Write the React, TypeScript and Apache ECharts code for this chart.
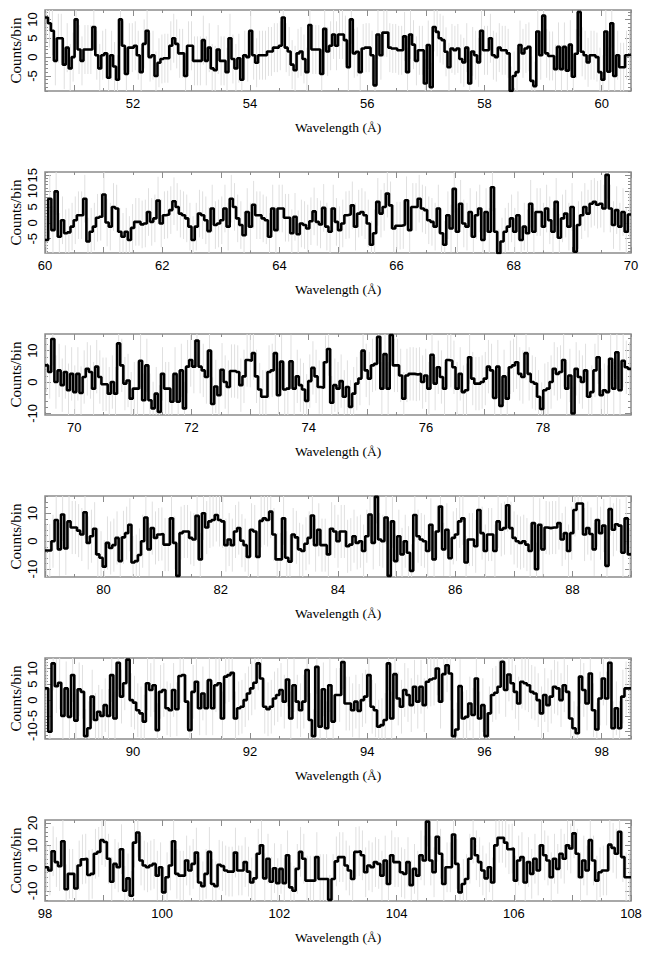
import React, { useEffect, useRef } from "react";
import * as echarts from "echarts";

// ---------- data ----------
const panelStarts = [50.5, 60, 69.5, 79, 88.5, 98];
const panelSpan = 10;

const xLabelValues = [
  [52, 54, 56, 58, 60],
  [60, 62, 64, 66, 68, 70],
  [70, 72, 74, 76, 78],
  [80, 82, 84, 86, 88],
  [90, 92, 94, 96, 98],
  [98, 100, 102, 104, 106, 108],
];
const yLabelValues = [
  [-5, 0, 5, 10],
  [-5, 0, 5, 10, 15],
  [-10, 0, 10],
  [-10, 0, 10],
  [-10, -5, 0, 5, 10],
  [-10, 0, 10, 20],
];
const yRanges = [
  [-9, 12.5],
  [-9.5, 16],
  [-10.5, 15.3],
  [-12.8, 16.2],
  [-12.3, 13.3],
  [-14.5, 21.3],
];
const errorSizes = [6.5, 7.5, 8.5, 9.5, 8.5, 11];

const panel1Counts = [
  10.5, 9, 7, -1, 5, 5, -2, 2.5, -3, 0, 10, 2, -1, 2, 2, 2, 8, 0.5, -3, 0.5, 1, -5.5, 0.5, -2.5, -6, 10, 3, -4.5, 2.5, 2.5,
  3, 0.5, -4, 3.5, 7, 0, 0.5, -5, -1.5, -0.5, -0.3, -0.3, 3, 5, 3.5, 1, 1, -5, 3, 3, -1, -1, -1, 4.5, -1, 2.5, -3, -3.5, 2,
  -1, -1, -4, 5, -0.5, -3, -0.3, -6, 0.5, 0, 7, 0.5, -1.5, 0.5, 0.5, 0.5, 1.5, 1.5, 2.5, 2.5, 3, 10.5, 2.5, 1.5, -2, -3.5,
  1, 1.5, -0.5, -4, 8.5, 2, 2, 2, -4.5, 7.5, 1.5, 3, 6, 3, 6, 6, 4.5,
  -2.7, 10, 1, 1.4, -4, 2.3, 2.5, 2.5, 0.5, -7.5, 6, 0.5, 6.5, 6.5, 2.5, 2.3, 2.3, 1.8, 1.8, 5.5, -4, 6, 3.3, -1, 1.8, 1.8,
  -7, 3.2, -8, 8, 6.7, 5, 4.5, 1.4, -2.7, 2.3, 1.8, 2.3, -0.5, -1.4, 2.5, -7, 1.5, 0.5, -1.4, 7, 1.8, 1.8, 5, 0.5, 0, 2.5,
  1.8, 1.8, 1, -9, -5, -4, 3.2, 1, 2.3, 2.7, -6.3, -7.7, 6.8, 0.5, 11, 1, 0.3, 0.3, -3.2, 2.7, -3.2, 2.7, -3.6, 3.3, -5.2,
  0.9, 12, 1.4, 0.5, -1.4, 0.5, 0.5, 0, -4, -6, 6.8, -3.9, 9, -5, 0.5, -2.7, -2.7, 0.5, 0.6,
];
const panel2Counts = [
  -5.4, 7.6, -2.3, 9.9, -4.4, 0.8, -3.3, -3, -1.2, 0.8, 2.4, 2.4, 7.6, -5.9, -2.8, -1.2, 1.6, 1.9, 8.9, 0.1, -1.2, 5, 4.5,
  -2.8, -4.4, -2.8, -5.4, -1.6, 0.3, 0.3, -0.5, -0.2, 3.4, 0.3, 1.4, 7, -0.2, 2.4, 2.6, 4, 6.8, 5, 2.9, 2.4, 1.4, -1.2,
  -5.4, -1.2, 2.9, 2.4, 0.8, -2.6, 4.5, -0.7, -0.2, 0.8, 4.5, -1.2, 7.6, 5, 1.4, -0.7, -3.9, 3.4, -1.2, 5.7, 2.4, 2.4, 1.4,
  0.8, -4.4, 4.5, -2.3, 4.5, 4.5, 1.6, 1.6, -3.3, 1.9, -3.6, -0.2, -0.7, -1.8, 0.5, 3.6, 0.3, -0.5, 4.7, -1.2, -2.8, 4.5,
  0.3, -2.3, -0.2, 2.4, 2.6, 5.5, -1.2, 2.9, 3.4, 2.4, -0.2, -6.9, -3.3, 6.6, 2.9, 5, 9.2, 5.5, -1.8, -0.9, -0.9, -0.7, 7.1,
  -2.3, 5, 5, 7.6, 4.5, 4, 0.8, 0.3, -1.2, 4.5, -3.3, -6.9, 2.4, -1.8, 10.7, -2.8, 6, -0.2, -1.2, 3.4, -4.4, 2.4, 4.5, -5.4,
  3.4, -2.8, 11.2, -2.8, -9.6, -5.9, -2.8, -1.2, 1.4, -2.8, 2.4, -5.4, -1.2, -3.3, 6, -2.8, 3.4, 3.4, -1.2, 4.5, 0.8, -2.8,
  6.6, -4.7, 1.4, 2.9, -1.2, 5, -9.1, -0.7, 2.4, 5, 2.9, 6, 6.6, 5.7, 6, 4.5, 15.1, 4.5, -0.7, 4, -1.2, 3.4, -2.8, 2.6,
];
const panel3Counts = [
  5.3, 3.2, 13.7, 0, 3.7, -1, 3.2, -2.6, 2.6, -3.2, 2.6, -3.5, 1.6, 4.2, 3.2, -2.1, 4.9, 1.6, -0.7, -0.7, -3.7, 0, -3.7,
  12.3, 5.3, -0.5, 0.5, -5.3, -2.1, -2.1, 6.8, -5.8, 5.3, -5.8, -8.4, -3.7, -9.5, 2.6, -2.1, -2.1, -6.3, 2.6, -6.3, 3.7,
  -8.4, 4.9, 7, 4.9, 13.2, 4.9, 3.7, 1.6, 10, -7, -1.4, -4.2, 3.9, 0, -1.6, 3.5, 3.5, 3.2, -1, 1.8, 7, 6.8, 9.2, 1.8, -2.4,
  -4.7, -4.7, 3.2, 3.7, 9.2, -4.2, 6.5, -2.4, -2.1, 6.6, -2.1, 1.8, -1, -2.4, -6, 0.3, 4.5, 1.8, -1.6, -1.8, 6.3, 10.5,
  -6.6, -1, -2.1, 0.3, -4.7,
  -1.6, -7.9, -3.7, -0.5, 1.1, 10, 3.7, 1.1, 5.3, 5.8, 14.4, -2.1, 8.9, -2.1, 15, 5.3, 5.3, 2.1, -5.3, 2.1, 2.6, 2.6, 2.4,
  2.6, 0, 2.1, -2.1, 8.7, -0.5, 4.7, 1.6, -2.1, 7, 6.8, 4.7, -2.1, 2.6, -3.2, -2.6, 7.9, 1.1, -0.5, -0.5, 0, 1.1, 4.9, 3.7,
  -5.1, 4.9, -7.6, 1.8, -5.3, 4.7, 5.3, 6.3, 2.6, 1.6, 9.2, 2.6, 0, -0.5, -4.7, -8.6, -2.6, -2.1, 0, 4.2, 2.6, 3.2, 7, -2.1,
  2.1, -10, 4.2, 1.6, 0, 3.7, -4.7, -3.2, 3.7, 7.9, -4.2, -2.6, -3.2, 7.4, -2.1, 9.5, -2.6, 6.8, 4.7, 4.2,
];
const panel4Counts = [
  -3.3, -3.3, 0, 7.6, -2.9, 9.6, -2.6, 7.1, 4.9, 4.9, 3.8, 2.4, 10.4, -0.6, 1.8, 4.5, -4.7, -5.9, -9.1, -0.6, -2.4, -1.4,
  1.2, -7.1, 1.4, 2.9, 5.9, -7.6, -7.1, -4.9, 0, 8.5, -2.9, 4.7, 1.2, 2.4, 2.6, -1.2, -1.2, 8.2, -0.6, -12.4, 2.9, 3.5, 3.5,
  1.2, 0.6, 9.1, -6.5, 10, 4.9, 7.1, 7.6, 9.4, 7.6, 7.1, -1.4, 0.6, -1.4, 3.5, 4.7, 0.2, -1.4, -5.6, 4.1, 3.5, -5.6, 7.3,
  8.2, 7.6, 10.6, 2.4, -6.5, -6.5, 8.2, -5.9, -7.3, 2.4, 1.4, -2.9, -3.5, -0.9, 1.2, 9.2, -1.4, 4.1, -1.4, -1.4, -4.7, 4.5,
  3.5, 0, 3.5, 3.5,
  -1.8, -1.2, 1.8, -0.6, 0, -3.5, 1.8, 9.6, -0.6, 15.9, 0.6, 0, 8.5, -12.4, 7.1, -7.1, 1.8, -4.7, 0, -4.1, -10.6, 9.4, 1.8,
  0.6, 0, -3.5, 5.9, -6.5, 3.5, 12.4, -2.9, 4.1, -6.1, 1.2, 2.4, 7.1, 8.2, -7.6, 0.6, 0.6, -1.8, 11.2, 2.9, -3.5, 2.4, 2.4,
  -3.5, 7.1, 4.1, 4.7, 12.9, 4.7, 1.2, 0, -0.6, 0, -1.2, -3.5, 6.5, -10, 5.9, -2.9, 4.9, 4.7, 4.9, 4.9, 6.5, 0.6, 2.9, -3.5,
  2.9, 11.2, 13.5, 13.5, 2.4, 4.7, 2.6, -2.9, 7.6, 2.9, 5.6, -8.8, 11.5, 4.1, 6.1, 5.6, -4.1, 8.2, -4.7,
];
const panel5Counts = [
  3.7, -10, 11.6, 4.4, 5.5, -5, 3.7, -5.3, 7.9, -6.5, 3.4, 2.6, -11.4, -8.9, 1.1, -6.3, -3.7, -5, -1.6, -5, 7.9, -5.8, 11.8,
  1.1, 5.3, 12.8, 0, -0.8, -3.2, -4.2, -6.8, 5.3, 3.2, 4.7, -9.5, 2.6, 3.2, -2.6, -3.2, 3.2, -2.9, 7.6, 7.9, -0.5, -9.5,
  2.6, 5.8, -2.6, 2.1, -2.6, 6.3, -2.6, 4.7, 5.3, -5.8, 7.4, 7.9, 8.6, -5.8, -2.6, -2.1, 0, 2.1, 3.7, 5.5, 11.6, 6.8, -2.1,
  -2.9, -2.1, 0.5, 1.6, 3.2, -0.5, 6.5, -5.8, 4.7, -0.5, -3.2, -0.5, 9.5, -6.3, -11.4, 10.5, -8.4, 3.4, -8.9, 4.7, -6.8,
  1.6, 1.6, 12,
  -1.1, -1.1, -3.2, -0.5, -3.4, 0, 1.1, 7.9, -2.1, -3.2, -8.4, -7.9, -6.3, 11.6, -5.8, 8.2, 0.5, -2.1, 3.2, 1.6, -1.6, 4.2,
  -0.5, 4.2, -1.6, 5.8, 6.5, 6.8, 10, -0.5, 8.2, 11, 8.4, -11.4, -9.3, 4.4, -5.8, -5.3, -1.1, -4.7, 6.8, -5.8, -1.6, -11.4,
  -4.2, 1.6, 2.3, 4.2, 12.1, 3.2, 8.1, 5.3, 2.6, -1.1, 5.8, 5.3, 4.7, 2.6, 2.1, 0, -4.2, 1.6, -1.6, 1.1, 4.2, 3.7, 0, 4.7,
  2.6, -5.8, -8.9, -10.5, 7.4, 3.2, -1.1, 8.4, -3.2, -9.3, 0.5, 6.8, 0.5, 11.8, -8.9, -2.6, -8.9, 1.1, 3.7, 3.7,
];
const panel6Counts = [
  0.4, -1, 7.5, 2.7, 0.9, 11.9, -9.3, -2.5, -2.5, -9, 1.2, 3.9, 4.2, -3, -2.5, 6.4, 7.2, 12.4, 11.6, 4.2, -6, 1.9, 0.4, 8.4,
  -10, -4.5, -12.2, 11.3, 15.8, 3.4, 1.2, 0.4, 1.2, 1.9, -3.3, 0.4, -10.7, -4, 1.2, 11.9, -2.5, -3.3, -3.3, 3.4, -1, 1.9,
  6.9, -6.3, -8, -2.5, 7.2, -7, -8, 1.5, 0.9, -1, -1.5, -1.5, 6.9, -1, -1, 2.7, -1.5, -6.3, -4.5, 6.4, 10.1, -4.5, 4.2, -6,
  0, -6.6, -0.3, -6.6, 5.7, -8.5, -10, -0.3, 7.2, 4.2, -5.5, -5.5, -5.5, 4.9, -4.8, -4.8, -4.8, -14, -4.8, 3, 4.9, 4.9,
  1.2, -1, -4.8, 7.2, 7.5, 5.7, -1.8, 1.2, 0.4, 2.7, 1.9, -3.3, 3.4, -7, 5.7, 2.7, 2.7, -1.8, -2.5, 2.7, -7.5, -0.3, -3.3,
  5.7, 3.4, 20.6, 3.4, -1.8, 13.9, 6.4, -7, 0.4, 0.4, 14.9, 1.9, -10.7, -7, -4.8, 4.2, 13.1, 5.7, 2.7, -1, -4.5, 0.4, -6.3,
  10.1, 13.4, 13.4, 11.3, 8.4, 8.7, -5.5, 3.4, 4.9, -6.3, 2.7, -2.5, 4.2, -1, 10.1, 5.7, 3.4, -4, 4.2, -0.3, 6.4, 4.2, 10.1,
  8.7, 15.4, 6.4, -4, 3.4, -1, 12.4, 3.4, -5.5, -1.8, -1, -1, 10.4, 9, 6.4, 16.1, 4.9, -4, -4,
];
const panelCounts = [panel1Counts, panel2Counts, panel3Counts, panel4Counts, panel5Counts, panel6Counts];

// ---------- layout ----------
const GRID_LEFT = 45;
const GRID_WIDTH = 586;
const GRID_HEIGHT = 81;
const GRID_TOP0 = 10;
const GRID_STRIDE = 162;
const FRAME = "#8c8c8c";
const SANS = "Liberation Sans, Arial, sans-serif";
const SERIF = "Liberation Serif, Times New Roman, serif";

function stepValues(a: number, b: number, step: number): number[] {
  const out: number[] = [];
  let v = Math.ceil(a / step - 1e-9) * step;
  while (v <= b + 1e-9) {
    out.push(Math.round(v * 1000) / 1000);
    v += step;
  }
  return out;
}

const yMinorSteps = [1, 1, 2, 2, 1, 2];
const yMajorSteps = [5, 5, 10, 10, 5, 10];

function buildOption() {
  const grids: any[] = [];
  const xAxes: any[] = [];
  const yAxes: any[] = [];
  const series: any[] = [];
  const graphics: any[] = [];

  panelCounts.forEach((counts, i) => {
    const top = GRID_TOP0 + GRID_STRIDE * i;
    const xmin = panelStarts[i];
    const xmax = xmin + panelSpan;
    const [ymin, ymax] = yRanges[i];
    grids.push({
      left: GRID_LEFT,
      top,
      width: GRID_WIDTH,
      height: GRID_HEIGHT,
      show: true,
      borderColor: FRAME,
      borderWidth: 1.5,
      backgroundColor: "transparent",
    });

    const xMajor = stepValues(xmin, xmax, 1);
    const xMinor = stepValues(xmin, xmax, 0.5);
    const yMajor = stepValues(ymin, ymax, yMajorSteps[i]);
    const yMinor = stepValues(ymin, ymax, yMinorSteps[i]);

    const baseX = (pos: string, ticks: number[], len: number, labels: number[] | null) => ({
      type: "value",
      gridIndex: i,
      position: pos,
      min: xmin,
      max: xmax,
      axisLine: { show: false, onZero: false },
      splitLine: { show: false },
      axisTick: { show: true, inside: true, length: len, customValues: ticks, lineStyle: { color: FRAME, width: 1 } },
      axisLabel: labels
        ? {
            show: true,
            customValues: labels,
            formatter: (v: number) => String(v),
            color: "#000",
            fontFamily: SANS,
            fontSize: 13,
            margin: 6,
          }
        : { show: false },
    });
    const baseY = (pos: string, ticks: number[], len: number, labels: number[] | null) => ({
      type: "value",
      gridIndex: i,
      position: pos,
      min: ymin,
      max: ymax,
      axisLine: { show: false, onZero: false },
      splitLine: { show: false },
      axisTick: { show: true, inside: true, length: len, customValues: ticks, lineStyle: { color: FRAME, width: 1 } },
      axisLabel: labels
        ? {
            show: true,
            customValues: labels,
            formatter: (v: number) => String(v),
            color: "#000",
            fontFamily: SANS,
            fontSize: 13,
            rotate: 90,
            margin: 6,
          }
        : { show: false },
    });

    const xMainIndex = xAxes.length;
    xAxes.push(baseX("bottom", xMajor, 6, xLabelValues[i]));
    xAxes.push(baseX("bottom", xMinor, 3, null));
    xAxes.push(baseX("top", xMajor, 6, null));
    xAxes.push(baseX("top", xMinor, 3, null));
    const yMainIndex = yAxes.length;
    yAxes.push(baseY("left", yMajor, 6, yLabelValues[i]));
    yAxes.push(baseY("left", yMinor, 3, null));
    yAxes.push(baseY("right", yMajor, 6, null));
    yAxes.push(baseY("right", yMinor, 3, null));

    const n = counts.length;
    const w = panelSpan / n;
    const err = errorSizes[i];
    const errData = counts.map((v, j) => [xmin + (j + 0.5) * w, v - err, v + err]);
    const stepData = counts.map((v, j) => [xmin + j * w, v]);
    stepData.push([xmin + n * w, counts[n - 1]]);

    series.push({
      type: "custom",
      xAxisIndex: xMainIndex,
      yAxisIndex: yMainIndex,
      silent: true,
      clip: true,
      encode: { x: 0, y: [1, 2] },
      data: errData,
      renderItem: (params: any, api: any) => {
        const x = api.value(0);
        const lo = Math.max(api.value(1), ymin);
        const hi = Math.min(api.value(2), ymax);
        const a = api.coord([x, lo]);
        const b = api.coord([x, hi]);
        return {
          type: "line",
          shape: { x1: a[0], y1: a[1], x2: b[0], y2: b[1] },
          style: { stroke: "#e0e0e0", lineWidth: 1 },
        };
      },
    });
    series.push({
      type: "line",
      xAxisIndex: xMainIndex,
      yAxisIndex: yMainIndex,
      step: "end",
      symbol: "none",
      silent: true,
      clip: true,
      data: stepData,
      lineStyle: { color: "#000", width: 2.6 },
    });

    graphics.push({
      type: "text",
      x: GRID_LEFT + GRID_WIDTH / 2,
      y: top + GRID_HEIGHT + 36,
      style: {
        text: "Wavelength (Å)",
        font: `13.5px ${SERIF}`,
        fill: "#000",
        align: "center",
        verticalAlign: "middle",
        textAlign: "center",
        textVerticalAlign: "middle",
      },
    });
    graphics.push({
      type: "text",
      x: 16,
      y: top + GRID_HEIGHT / 2,
      rotation: Math.PI / 2,
      style: {
        text: "Counts/bin",
        font: `15px ${SERIF}`,
        fill: "#000",
        align: "center",
        verticalAlign: "middle",
        textAlign: "center",
        textVerticalAlign: "middle",
      },
    });
  });

  return {
    animation: false,
    backgroundColor: "#fff",
    grid: grids,
    xAxis: xAxes,
    yAxis: yAxes,
    series,
    graphic: { elements: graphics },
  };
}

export default function App() {
  const ref = useRef<HTMLDivElement>(null);
  useEffect(() => {
    document.body.style.margin = "0";
    if (!ref.current) return;
    const chart = echarts.init(ref.current, undefined, { renderer: "svg" });
    chart.setOption(buildOption() as any);
    return () => chart.dispose();
  }, []);
  return <div ref={ref} style={{ width: 652, height: 953 }} />;
}
